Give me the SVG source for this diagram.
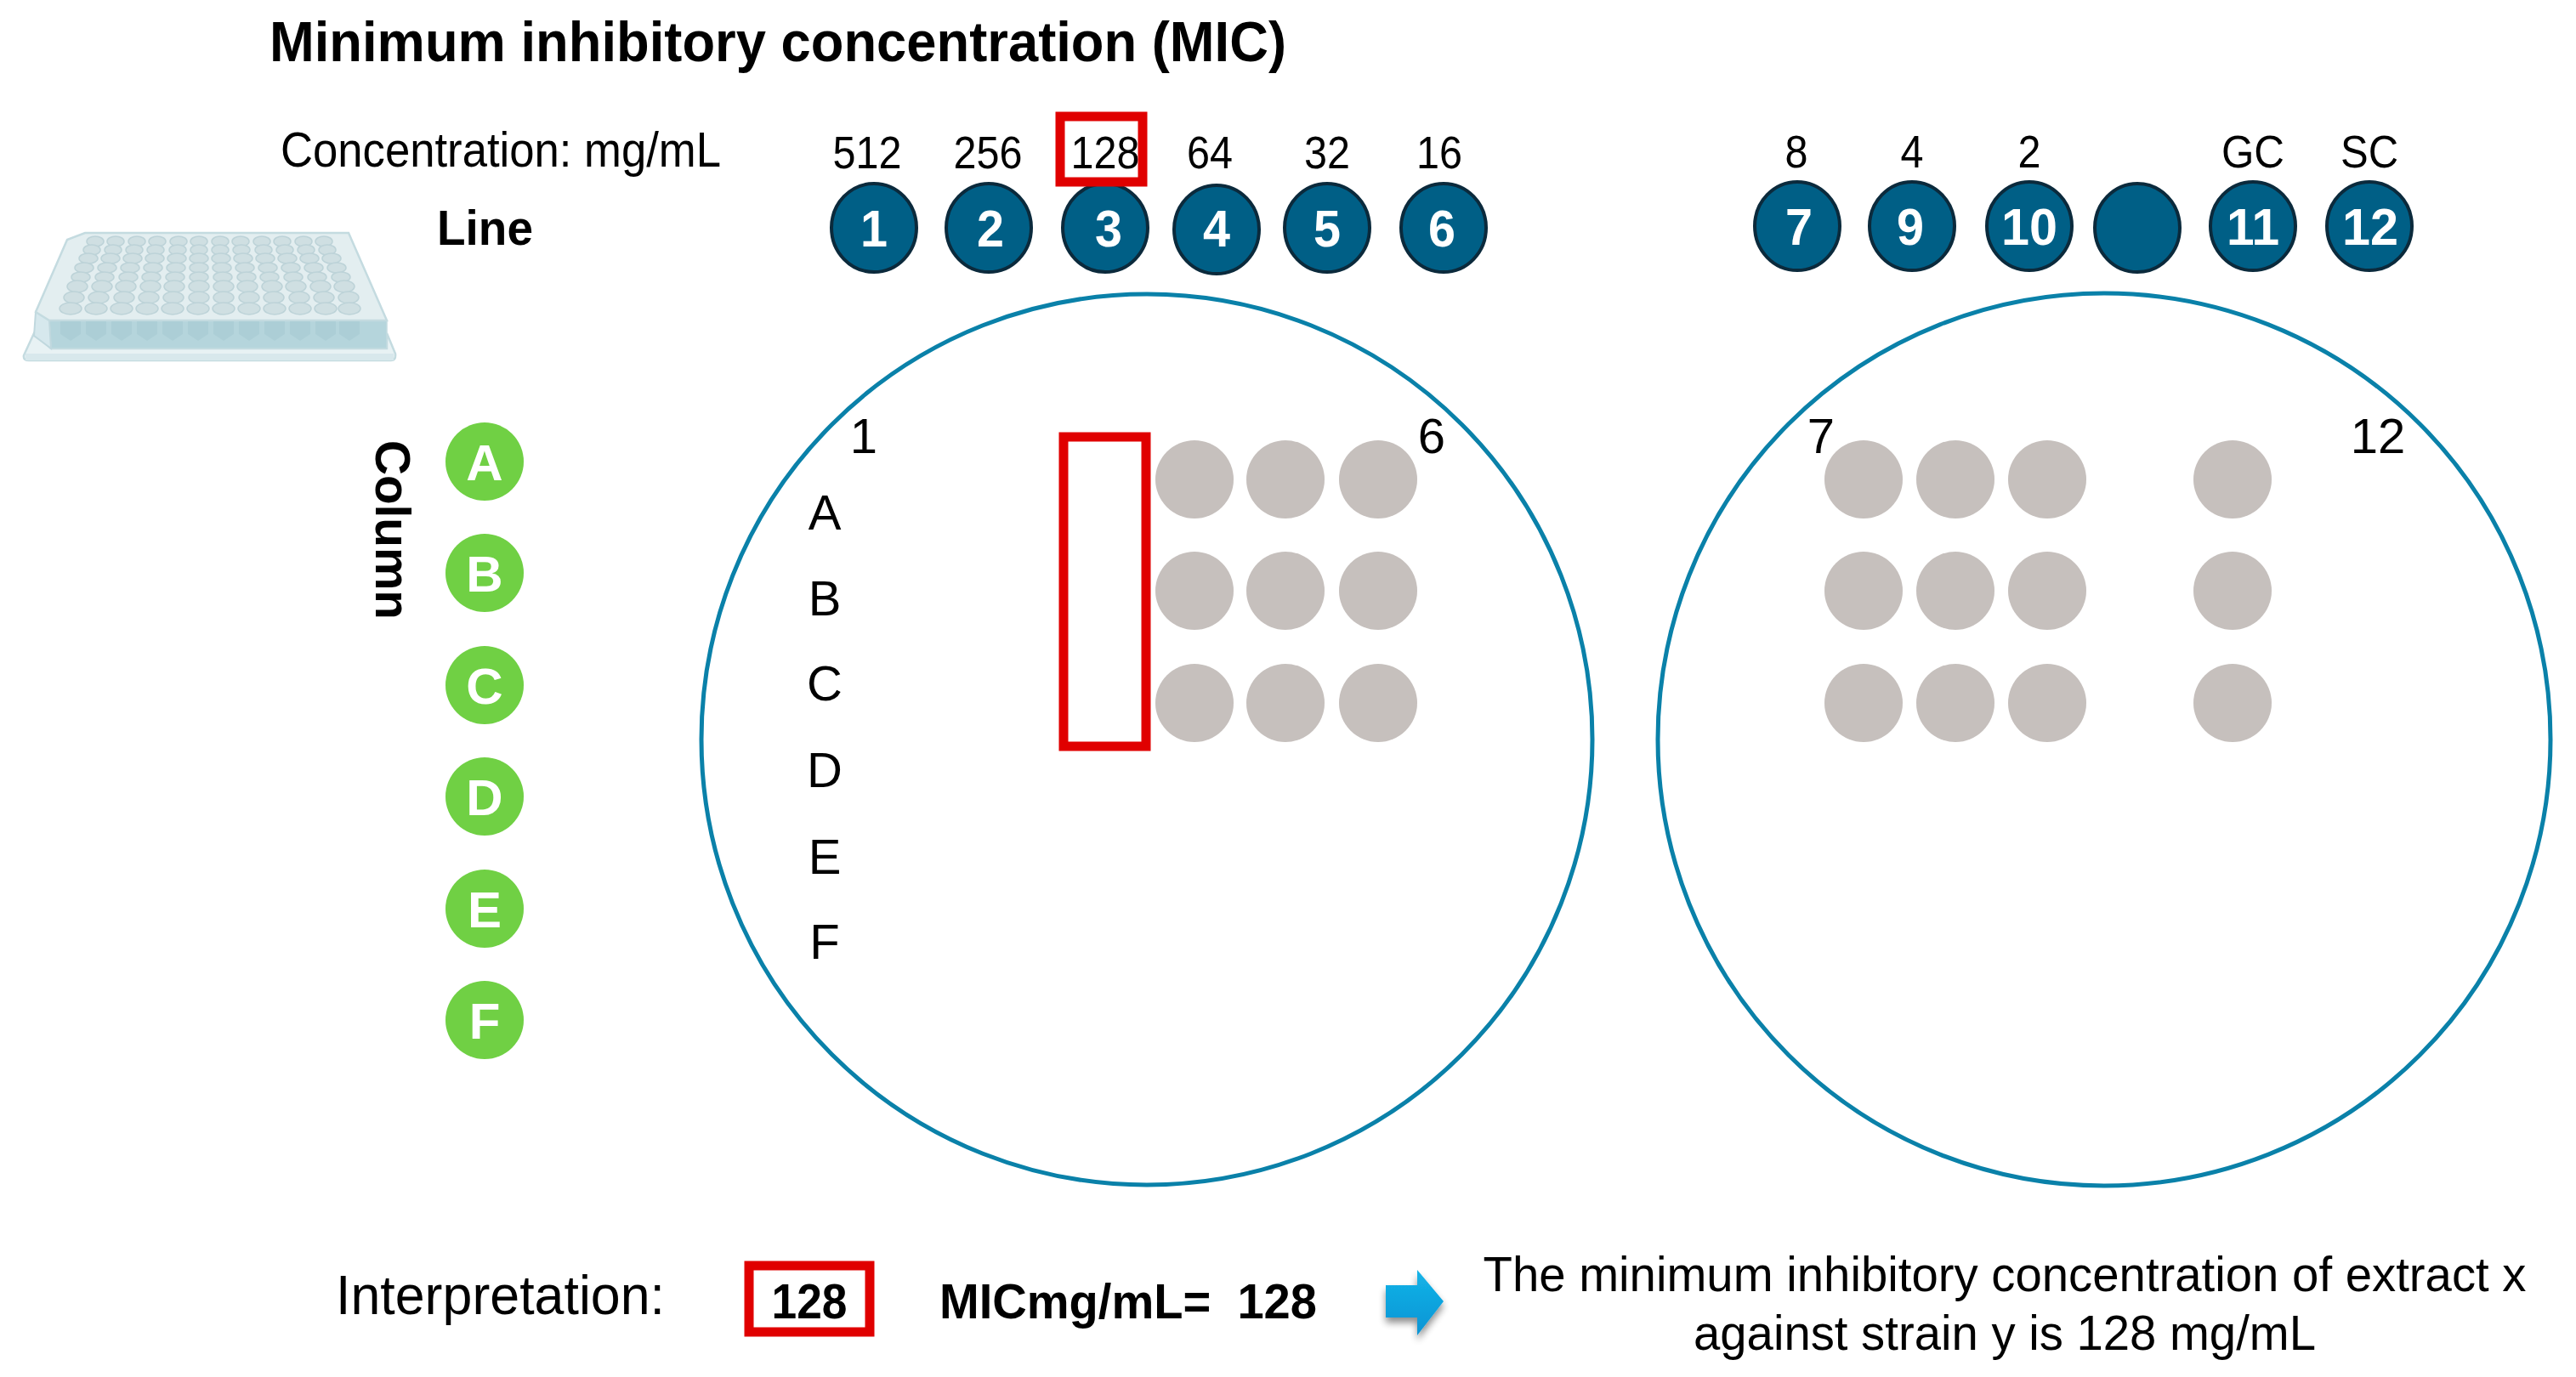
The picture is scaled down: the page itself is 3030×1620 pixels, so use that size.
<svg xmlns="http://www.w3.org/2000/svg" width="3030" height="1620" viewBox="0 0 3030 1620">
<defs>
<linearGradient id="arrowFill" x1="0" y1="0" x2="0" y2="1"><stop offset="0" stop-color="#14b4e8"/><stop offset="1" stop-color="#0a94d4"/></linearGradient>
<filter id="soft" x="-30%" y="-30%" width="160%" height="170%"><feGaussianBlur in="SourceAlpha" stdDeviation="4"/><feOffset dx="0" dy="6"/><feComponentTransfer><feFuncA type="linear" slope="0.45"/></feComponentTransfer><feMerge><feMergeNode/><feMergeNode in="SourceGraphic"/></feMerge></filter>
</defs>
<style>
text{font-family:"Liberation Sans",Arial,sans-serif;fill:#000}
.n{font-size:54px;text-anchor:middle}
.l{font-size:58px;text-anchor:middle}
.b{font-weight:700}
.dk ellipse{fill:#005f86;stroke:#0b2a3c;stroke-width:4}
.dk text{fill:#fff;font-size:62px;font-weight:700;text-anchor:middle}
.gr circle{fill:#70d044}
.gr text{fill:#fff;font-size:60px;font-weight:700;text-anchor:middle}
.plate{fill:#fff;stroke:#0a81a9;stroke-width:5}
.dot{fill:#c6c0bd}
.red{fill:none;stroke:#e00000;stroke-width:11}
.w{fill:#cfdfe2;stroke:#bdd3d8;stroke-width:1.5}
</style>
<rect width="3030" height="1620" fill="#fff"/>
<text class="b" x="317" y="72" font-size="66" textLength="1196" lengthAdjust="spacingAndGlyphs" id="title">Minimum inhibitory concentration (MIC)</text>
<text x="330" y="196" font-size="58" textLength="518" lengthAdjust="spacingAndGlyphs">Concentration: mg/mL</text>
<text class="b" x="514" y="288" font-size="58" textLength="113" lengthAdjust="spacingAndGlyphs">Line</text>
<text class="b" transform="translate(442,518) rotate(90)" font-size="58" textLength="211" lengthAdjust="spacingAndGlyphs">Column</text>
<g id="microplate">
<path d="M40 392L28 418Q27 424 34 424H460Q466 424 465 416L455 392L455 410H60Z" fill="#e8f2f4" stroke="#c4dbe0" stroke-width="2.5"/>
<path d="M30 416H463V424H30Z" fill="#d8e8ec"/>
<path d="M58 377H455V410H60Z" fill="#b5d5dc" stroke="#c4dbe0" stroke-width="1.5"/>
<path d="M42 367L58 377L60 410L40 395Z" fill="#d6e8ed" stroke="#c0d8de" stroke-width="2"/>
<path d="M42 367L79 282L100 274H410L455 377H58Z" fill="#e3eef0" stroke="#c4dbe0" stroke-width="2.5"/>
<g id="wells" class="w"><ellipse cx="112" cy="284" rx="10" ry="6"/><ellipse cx="136" cy="284" rx="10" ry="6"/><ellipse cx="161" cy="284" rx="10" ry="6"/><ellipse cx="185" cy="284" rx="10" ry="6"/><ellipse cx="210" cy="284" rx="10" ry="6"/><ellipse cx="234" cy="284" rx="10" ry="6"/><ellipse cx="259" cy="284" rx="10" ry="6"/><ellipse cx="283" cy="284" rx="10" ry="6"/><ellipse cx="308" cy="284" rx="10" ry="6"/><ellipse cx="332" cy="284" rx="10" ry="6"/><ellipse cx="357" cy="284" rx="10" ry="6"/><ellipse cx="381" cy="284" rx="10" ry="6"/>
<ellipse cx="108" cy="294" rx="10" ry="6"/><ellipse cx="133" cy="294" rx="10" ry="6"/><ellipse cx="158" cy="294" rx="10" ry="6"/><ellipse cx="183" cy="294" rx="10" ry="6"/><ellipse cx="209" cy="294" rx="10" ry="6"/><ellipse cx="234" cy="294" rx="10" ry="6"/><ellipse cx="259" cy="294" rx="10" ry="6"/><ellipse cx="284" cy="294" rx="10" ry="6"/><ellipse cx="310" cy="294" rx="10" ry="6"/><ellipse cx="335" cy="294" rx="10" ry="6"/><ellipse cx="360" cy="294" rx="10" ry="6"/><ellipse cx="385" cy="294" rx="10" ry="6"/>
<ellipse cx="104" cy="304" rx="11" ry="6"/><ellipse cx="130" cy="304" rx="11" ry="6"/><ellipse cx="156" cy="304" rx="11" ry="6"/><ellipse cx="182" cy="304" rx="11" ry="6"/><ellipse cx="208" cy="304" rx="11" ry="6"/><ellipse cx="234" cy="304" rx="11" ry="6"/><ellipse cx="260" cy="304" rx="11" ry="6"/><ellipse cx="286" cy="304" rx="11" ry="6"/><ellipse cx="312" cy="304" rx="11" ry="6"/><ellipse cx="338" cy="304" rx="11" ry="6"/><ellipse cx="364" cy="304" rx="11" ry="6"/><ellipse cx="390" cy="304" rx="11" ry="6"/>
<ellipse cx="99" cy="315" rx="11" ry="6"/><ellipse cx="126" cy="315" rx="11" ry="6"/><ellipse cx="153" cy="315" rx="11" ry="6"/><ellipse cx="180" cy="315" rx="11" ry="6"/><ellipse cx="207" cy="315" rx="11" ry="6"/><ellipse cx="234" cy="315" rx="11" ry="6"/><ellipse cx="261" cy="315" rx="11" ry="6"/><ellipse cx="288" cy="315" rx="11" ry="6"/><ellipse cx="315" cy="315" rx="11" ry="6"/><ellipse cx="342" cy="315" rx="11" ry="6"/><ellipse cx="369" cy="315" rx="11" ry="6"/><ellipse cx="396" cy="315" rx="11" ry="6"/>
<ellipse cx="95" cy="326" rx="11" ry="6"/><ellipse cx="123" cy="326" rx="11" ry="6"/><ellipse cx="151" cy="326" rx="11" ry="6"/><ellipse cx="178" cy="326" rx="11" ry="6"/><ellipse cx="206" cy="326" rx="11" ry="6"/><ellipse cx="234" cy="326" rx="11" ry="6"/><ellipse cx="262" cy="326" rx="11" ry="6"/><ellipse cx="290" cy="326" rx="11" ry="6"/><ellipse cx="317" cy="326" rx="11" ry="6"/><ellipse cx="345" cy="326" rx="11" ry="6"/><ellipse cx="373" cy="326" rx="11" ry="6"/><ellipse cx="401" cy="326" rx="11" ry="6"/>
<ellipse cx="91" cy="337" rx="12" ry="7"/><ellipse cx="120" cy="337" rx="12" ry="7"/><ellipse cx="148" cy="337" rx="12" ry="7"/><ellipse cx="177" cy="337" rx="12" ry="7"/><ellipse cx="205" cy="337" rx="12" ry="7"/><ellipse cx="234" cy="337" rx="12" ry="7"/><ellipse cx="263" cy="337" rx="12" ry="7"/><ellipse cx="291" cy="337" rx="12" ry="7"/><ellipse cx="320" cy="337" rx="12" ry="7"/><ellipse cx="348" cy="337" rx="12" ry="7"/><ellipse cx="377" cy="337" rx="12" ry="7"/><ellipse cx="405" cy="337" rx="12" ry="7"/>
<ellipse cx="87" cy="350" rx="12" ry="7"/><ellipse cx="116" cy="350" rx="12" ry="7"/><ellipse cx="146" cy="350" rx="12" ry="7"/><ellipse cx="175" cy="350" rx="12" ry="7"/><ellipse cx="204" cy="350" rx="12" ry="7"/><ellipse cx="234" cy="350" rx="12" ry="7"/><ellipse cx="263" cy="350" rx="12" ry="7"/><ellipse cx="293" cy="350" rx="12" ry="7"/><ellipse cx="322" cy="350" rx="12" ry="7"/><ellipse cx="352" cy="350" rx="12" ry="7"/><ellipse cx="381" cy="350" rx="12" ry="7"/><ellipse cx="410" cy="350" rx="12" ry="7"/>
<ellipse cx="83" cy="363" rx="13" ry="7"/><ellipse cx="113" cy="363" rx="13" ry="7"/><ellipse cx="143" cy="363" rx="13" ry="7"/><ellipse cx="173" cy="363" rx="13" ry="7"/><ellipse cx="203" cy="363" rx="13" ry="7"/><ellipse cx="233" cy="363" rx="13" ry="7"/><ellipse cx="263" cy="363" rx="13" ry="7"/><ellipse cx="293" cy="363" rx="13" ry="7"/><ellipse cx="323" cy="363" rx="13" ry="7"/><ellipse cx="353" cy="363" rx="13" ry="7"/><ellipse cx="383" cy="363" rx="13" ry="7"/><ellipse cx="411" cy="363" rx="13" ry="7"/></g>
<g fill="#a9ccd4" opacity=".7"><path d="M71 378h24v15l-12 8l-12-8z"/><path d="M101 378h24v15l-12 8l-12-8z"/><path d="M131 378h24v15l-12 8l-12-8z"/><path d="M161 378h24v15l-12 8l-12-8z"/><path d="M191 378h24v15l-12 8l-12-8z"/><path d="M221 378h24v15l-12 8l-12-8z"/><path d="M251 378h24v15l-12 8l-12-8z"/><path d="M281 378h24v15l-12 8l-12-8z"/><path d="M311 378h24v15l-12 8l-12-8z"/><path d="M341 378h24v15l-12 8l-12-8z"/><path d="M371 378h24v15l-12 8l-12-8z"/><path d="M399 378h24v15l-12 8l-12-8z"/></g>
</g>
<g id="conc-labels">
<text class="n" x="1020" y="198" textLength="81" lengthAdjust="spacingAndGlyphs">512</text><text class="n" x="1162" y="198" textLength="81" lengthAdjust="spacingAndGlyphs">256</text><text class="n" x="1300" y="198" textLength="81" lengthAdjust="spacingAndGlyphs">128</text><text class="n" x="1423" y="198" textLength="54" lengthAdjust="spacingAndGlyphs">64</text><text class="n" x="1561" y="198" textLength="54" lengthAdjust="spacingAndGlyphs">32</text><text class="n" x="1693" y="198" textLength="54" lengthAdjust="spacingAndGlyphs">16</text>
<text class="n" x="2113" y="197" textLength="27" lengthAdjust="spacingAndGlyphs">8</text><text class="n" x="2249" y="197" textLength="27" lengthAdjust="spacingAndGlyphs">4</text><text class="n" x="2387" y="197" textLength="27" lengthAdjust="spacingAndGlyphs">2</text><text class="n" x="2650" y="197" textLength="74" lengthAdjust="spacingAndGlyphs">GC</text><text class="n" x="2787" y="197" textLength="68" lengthAdjust="spacingAndGlyphs">SC</text>
</g>
<g id="line-1" class="dk"><ellipse cx="1028" cy="268" rx="50" ry="52"/><text x="1028" y="290" textLength="32" lengthAdjust="spacingAndGlyphs">1</text></g>
<g id="line-2" class="dk"><ellipse cx="1163" cy="268" rx="50" ry="52"/><text x="1165" y="290" textLength="32" lengthAdjust="spacingAndGlyphs">2</text></g>
<g id="line-3" class="dk"><ellipse cx="1300" cy="268" rx="50" ry="52"/><text x="1304" y="290" textLength="32" lengthAdjust="spacingAndGlyphs">3</text></g>
<g id="line-4" class="dk"><ellipse cx="1431" cy="270" rx="50" ry="52"/><text x="1431" y="290" textLength="32" lengthAdjust="spacingAndGlyphs">4</text></g>
<g id="line-5" class="dk"><ellipse cx="1561" cy="268" rx="50" ry="52"/><text x="1561" y="290" textLength="32" lengthAdjust="spacingAndGlyphs">5</text></g>
<g id="line-6" class="dk"><ellipse cx="1698" cy="268" rx="50" ry="52"/><text x="1696" y="290" textLength="32" lengthAdjust="spacingAndGlyphs">6</text></g>
<g id="line-7" class="dk"><ellipse cx="2114" cy="266" rx="50" ry="52"/><text x="2116" y="288" textLength="32" lengthAdjust="spacingAndGlyphs">7</text></g>
<g id="line-9" class="dk"><ellipse cx="2249" cy="266" rx="50" ry="52"/><text x="2247" y="288" textLength="32" lengthAdjust="spacingAndGlyphs">9</text></g>
<g id="line-10" class="dk"><ellipse cx="2387" cy="266" rx="50" ry="52"/><text x="2387" y="288" textLength="66" lengthAdjust="spacingAndGlyphs">10</text></g>
<g id="line-blank" class="dk"><ellipse cx="2514" cy="268" rx="50" ry="52"/></g>
<g id="line-11" class="dk"><ellipse cx="2650" cy="266" rx="50" ry="52"/><text x="2650" y="288" textLength="62" lengthAdjust="spacingAndGlyphs">11</text></g>
<g id="line-12" class="dk"><ellipse cx="2787" cy="266" rx="50" ry="52"/><text x="2788" y="288" textLength="66" lengthAdjust="spacingAndGlyphs">12</text></g>
<g id="col-A" class="gr"><circle cx="570" cy="543" r="46"/><text x="570" y="565">A</text></g>
<g id="col-B" class="gr"><circle cx="570" cy="674" r="46"/><text x="570" y="696">B</text></g>
<g id="col-C" class="gr"><circle cx="570" cy="806" r="46"/><text x="570" y="828">C</text></g>
<g id="col-D" class="gr"><circle cx="570" cy="937" r="46"/><text x="570" y="959">D</text></g>
<g id="col-E" class="gr"><circle cx="570" cy="1069" r="46"/><text x="570" y="1091">E</text></g>
<g id="col-F" class="gr"><circle cx="570" cy="1200" r="46"/><text x="570" y="1222">F</text></g>
<g id="plate-left">
<circle class="plate" cx="1349" cy="870" r="524"/>
<text class="l" x="1016" y="533">1</text><text class="l" x="1684" y="533">6</text>
<text class="l" x="970" y="623">A</text><text class="l" x="970" y="724">B</text><text class="l" x="970" y="824">C</text><text class="l" x="970" y="926">D</text><text class="l" x="970" y="1028">E</text><text class="l" x="970" y="1128">F</text>
<circle class="dot" cx="1405" cy="564" r="46"/><circle class="dot" cx="1512" cy="564" r="46"/><circle class="dot" cx="1621" cy="564" r="46"/>
<circle class="dot" cx="1405" cy="695" r="46"/><circle class="dot" cx="1512" cy="695" r="46"/><circle class="dot" cx="1621" cy="695" r="46"/>
<circle class="dot" cx="1405" cy="827" r="46"/><circle class="dot" cx="1512" cy="827" r="46"/><circle class="dot" cx="1621" cy="827" r="46"/>
<rect class="red" x="1251" y="514" width="97" height="364"/>
</g>
<g id="plate-right">
<circle class="plate" cx="2475" cy="870" r="525"/>
<text class="l" x="2142" y="533">7</text><text class="l" x="2797" y="533">12</text>
<circle class="dot" cx="2192" cy="564" r="46"/><circle class="dot" cx="2300" cy="564" r="46"/><circle class="dot" cx="2408" cy="564" r="46"/><circle class="dot" cx="2626" cy="564" r="46"/>
<circle class="dot" cx="2192" cy="695" r="46"/><circle class="dot" cx="2300" cy="695" r="46"/><circle class="dot" cx="2408" cy="695" r="46"/><circle class="dot" cx="2626" cy="695" r="46"/>
<circle class="dot" cx="2192" cy="827" r="46"/><circle class="dot" cx="2300" cy="827" r="46"/><circle class="dot" cx="2408" cy="827" r="46"/><circle class="dot" cx="2626" cy="827" r="46"/>
</g>
<rect class="red" id="box-128-top" x="1247" y="137" width="97" height="77"/>
<g id="interpretation">
<text x="395" y="1546" font-size="64" textLength="387" lengthAdjust="spacingAndGlyphs">Interpretation:</text>
<rect class="red" x="881" y="1489" width="142" height="78"/>
<text class="b" x="952" y="1551" font-size="58" text-anchor="middle" textLength="89" lengthAdjust="spacingAndGlyphs">128</text>
<text class="b" x="1105" y="1551" font-size="58" xml:space="preserve" textLength="444" lengthAdjust="spacingAndGlyphs">MICmg/mL=  128</text>
<path d="M1630 1512H1667V1494L1698 1531L1667 1571V1550H1630Z" fill="url(#arrowFill)" filter="url(#soft)"/>
<text x="2358" y="1519" font-size="57" text-anchor="middle" textLength="1227" lengthAdjust="spacingAndGlyphs">The minimum inhibitory concentration of extract x</text>
<text x="2358" y="1588" font-size="57" text-anchor="middle" textLength="732" lengthAdjust="spacingAndGlyphs">against strain y is 128 mg/mL</text>
</g>
</svg>
